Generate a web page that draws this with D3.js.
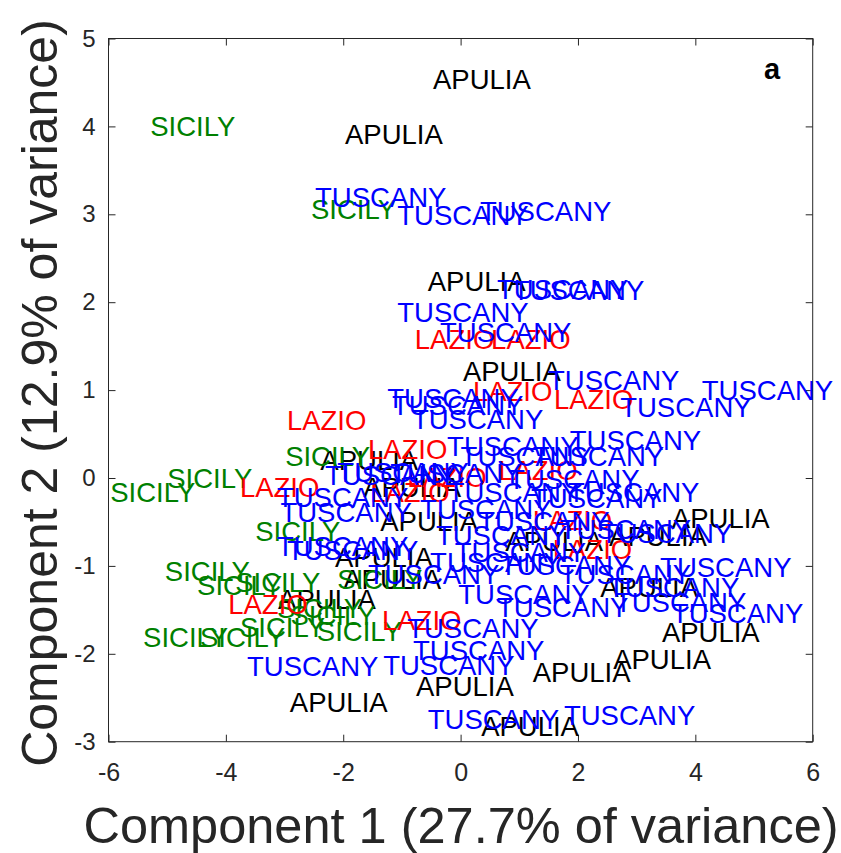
<!DOCTYPE html>
<html>
<head>
<meta charset="utf-8">
<script src="https://cdn.jsdelivr.net/npm/d3@7"></script>
<style>
  body { margin: 0; background: #fff; }
  text { font-family: "Liberation Sans", Arial, Helvetica, sans-serif; }
</style>
</head>
<body>
<div id="chart"></div>
<script>
// PCA scores [component 1, component 2] per region
const apulia = [
  [-0.47, 4.53], [-1.97, 3.91], [-0.56, 2.24], [0.04, 1.21], [-2.39, 0.20],
  [-2.14, -0.90], [-2.00, -1.15], [-3.11, -1.38], [-1.37, -0.50], [0.76, -0.72],
  [3.60, -0.46], [2.53, -0.67], [2.38, -1.25], [3.43, -1.76], [2.60, -2.07],
  [1.23, -2.21], [-0.76, -2.37], [-2.91, -2.55], [0.35, -2.83], [-1.66, -0.11]
];
const sicily = [
  [-5.29, 4.00], [-2.55, 3.06], [-2.99, 0.25], [-5.00, 0.00], [-5.97, -0.16],
  [-3.50, -0.61], [-5.04, -1.06], [-4.49, -1.22], [-3.84, -1.19], [-2.10, -1.15],
  [-3.13, -1.48], [-5.41, -1.81], [-4.44, -1.81], [-3.76, -1.70], [-2.45, -1.75],
  [-2.90, -1.56]
];
const lazio = [
  [-0.78, 1.57], [0.52, 1.57], [0.21, 0.98], [1.59, 0.89], [-2.96, 0.65],
  [-1.58, 0.32], [-3.76, -0.11], [-0.91, 0.01], [0.64, 0.08], [-1.54, -0.17],
  [1.23, -0.48], [1.57, -0.81], [-3.96, -1.44], [-1.34, -1.62]
];
const tuscany = [
  [-2.48, 3.19], [-1.08, 2.99], [0.33, 3.03], [0.62, 2.14], [0.89, 2.13],
  [-1.08, 1.88], [-0.35, 1.65], [1.49, 1.11], [4.11, 1.00], [2.72, 0.80],
  [-1.25, 0.91], [-1.17, 0.83], [-0.83, 0.67], [1.86, 0.43], [1.23, 0.24],
  [-0.23, 0.36], [0.00, 0.24], [-2.31, 0.03], [-3.13, -0.22], [-3.07, -0.39],
  [-3.13, -0.78], [-2.96, -0.82], [0.81, -0.02], [1.83, -0.17], [1.20, -0.23],
  [2.39, -0.63], [3.40, -1.02], [2.51, -1.25], [2.63, -1.42], [3.60, -1.54],
  [0.62, -1.47], [-0.04, -1.33], [-0.91, -1.71], [-0.81, -1.96], [-1.32, -2.13],
  [-3.64, -2.15], [-0.56, -2.75], [1.76, -2.70], [-2.10, 0.06], [-0.22, -0.17],
  [-0.69, -0.36], [-0.42, -0.65], [-0.10, -0.85], [-1.58, -1.10], [-0.52, -0.96],
  [0.67, -0.99], [1.69, -0.59], [1.69, -1.10], [-1.20, 0.05], [0.30, -0.50]
];

const regions = [
  { name: "APULIA", color: "#000000", points: apulia },
  { name: "SICILY", color: "#008000", points: sicily },
  { name: "LAZIO", color: "#ff0000", points: lazio },
  { name: "TUSCANY", color: "#0000ff", points: tuscany }
];

const xTicks = [-6, -4, -2, 0, 2, 4, 6];
const yTicks = [-3, -2, -1, 0, 1, 2, 3, 4, 5];

const width = 841, height = 853;
const plot = { left: 108.5, right: 812.7, top: 38.5, bottom: 741.7 };
const axisColor = "#262626";

const svg = d3.select("#chart")
  .append("svg")
  .attr("width", width)
  .attr("height", height);

const x = d3.scaleLinear().domain([-6, 6]).range([plot.left, plot.right]);
const y = d3.scaleLinear().domain([-3, 5]).range([plot.bottom, plot.top]);

const fmt = d => d3.format("d")(d).replace("−", "-");

// axes with inward ticks on all four sides
const gx = svg.append("g")
  .attr("transform", `translate(0,${plot.bottom})`)
  .call(d3.axisBottom(x).tickValues(xTicks).tickSizeInner(-7).tickSizeOuter(0).tickPadding(22).tickFormat(fmt));
const gy = svg.append("g")
  .attr("transform", `translate(${plot.left},0)`)
  .call(d3.axisLeft(y).tickValues(yTicks).tickSizeInner(-7).tickSizeOuter(0).tickPadding(13).tickFormat(fmt));
svg.append("g")
  .attr("transform", `translate(0,${plot.top})`)
  .call(d3.axisTop(x).tickValues(xTicks).tickSizeInner(-7).tickSizeOuter(0).tickFormat(""));
svg.append("g")
  .attr("transform", `translate(${plot.right},0)`)
  .call(d3.axisRight(y).tickValues(yTicks).tickSizeInner(-7).tickSizeOuter(0).tickFormat(""));

svg.selectAll(".domain").remove();
svg.selectAll(".tick line").attr("stroke", axisColor);
gx.selectAll(".tick text").attr("font-size", 25).attr("fill", axisColor)
  .attr("font-family", "Liberation Sans, Arial, sans-serif");
gy.selectAll(".tick text").attr("font-size", 24).attr("fill", axisColor)
  .attr("font-family", "Liberation Sans, Arial, sans-serif");

svg.append("rect")
  .attr("x", plot.left).attr("y", plot.top)
  .attr("width", plot.right - plot.left).attr("height", plot.bottom - plot.top)
  .attr("fill", "none").attr("stroke", axisColor).attr("stroke-width", 1);

// text labels for each sample
regions.forEach(r => {
  svg.append("g")
    .selectAll("text")
    .data(r.points)
    .enter()
    .append("text")
    .attr("x", d => x(d[0]))
    .attr("y", d => y(d[1]))
    .attr("dominant-baseline", "central")
    .attr("font-size", 27.5)
    .attr("fill", r.color)
    .text(r.name);
});

svg.append("text")
  .attr("x", 764).attr("y", 79)
  .attr("font-size", 29).attr("font-weight", "bold").attr("fill", "#000")
  .text("a");

// axis titles
svg.append("text")
  .attr("x", 461).attr("y", 843)
  .attr("text-anchor", "middle").attr("font-size", 50.5).attr("fill", axisColor)
  .text("Component 1 (27.7% of variance)");
svg.append("text")
  .attr("transform", `translate(57,${393}) rotate(-90)`)
  .attr("text-anchor", "middle").attr("font-size", 50).attr("fill", axisColor)
  .text("Component 2 (12.9% of variance)");
</script>
</body>
</html>
